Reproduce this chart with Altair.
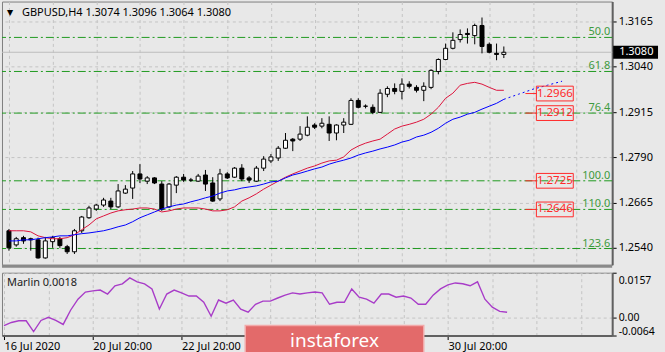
import altair as alt
import pandas as pd

symbol = "GBPUSD,H4"

opens = [1.2587,1.2548,1.2568,1.2565,1.2562,1.2512,1.2557,1.2565,1.2543,1.2529,
         1.2587,1.2623,1.2647,1.2658,1.2669,1.2653,1.2691,1.2705,1.2744,1.2724,
         1.2733,1.2716,1.2653,1.2713,1.2735,1.2727,1.2724,1.2741,1.2719,1.2675,
         1.2744,1.2735,1.2760,1.2733,1.2724,1.2760,1.2780,1.2788,1.2815,1.2840,
         1.2840,1.2851,1.2879,1.2876,1.2881,1.2857,1.2879,1.2881,1.2947,1.2931,
         1.2928,1.2914,1.2964,1.2980,1.2972,1.2992,1.2983,1.2975,1.2983,1.3027,
         1.3060,1.3091,1.3115,1.3132,1.3126,1.3154,1.3102,1.3077,1.3074]
highs = [1.2592,1.2570,1.2573,1.2568,1.2568,1.2570,1.2573,1.2570,1.2548,1.2592,
         1.2628,1.2656,1.2661,1.2678,1.2678,1.2716,1.2713,1.2752,1.2771,1.2738,
         1.2735,1.2724,1.2719,1.2738,1.2744,1.2733,1.2744,1.2755,1.2735,1.2758,
         1.2749,1.2763,1.2771,1.2738,1.2766,1.2793,1.2799,1.2821,1.2857,1.2843,
         1.2876,1.2903,1.2884,1.2898,1.2903,1.2881,1.2898,1.2953,1.2953,1.2936,
         1.2936,1.2978,1.2986,1.2994,1.3008,1.3000,1.2989,1.2997,1.3033,1.3063,
         1.3104,1.3135,1.3143,1.3146,1.3159,1.3176,1.3107,1.3104,1.3096]
lows = [1.2532,1.2543,1.2551,1.2532,1.2510,1.2510,1.2540,1.2540,1.2523,1.2523,
        1.2581,1.2620,1.2642,1.2653,1.2647,1.2650,1.2689,1.2675,1.2719,1.2716,
        1.2716,1.2642,1.2650,1.2691,1.2722,1.2722,1.2722,1.2697,1.2667,1.2669,
        1.2730,1.2733,1.2724,1.2719,1.2722,1.2752,1.2774,1.2780,1.2813,1.2807,
        1.2835,1.2848,1.2868,1.2870,1.2835,1.2837,1.2857,1.2879,1.2925,1.2925,
        1.2909,1.2912,1.2956,1.2964,1.2950,1.2980,1.2969,1.2945,1.2978,1.3019,
        1.3058,1.3088,1.3107,1.3104,1.3102,1.3077,1.3077,1.3058,1.3064]
closes = [1.2540,1.2565,1.2559,1.2562,1.2512,1.2559,1.2568,1.2546,1.2529,1.2587,
          1.2625,1.2650,1.2658,1.2672,1.2653,1.2697,1.2702,1.2744,1.2730,1.2733,
          1.2719,1.2647,1.2716,1.2735,1.2727,1.2727,1.2738,1.2716,1.2669,1.2744,
          1.2733,1.2760,1.2730,1.2727,1.2760,1.2785,1.2791,1.2815,1.2837,1.2835,
          1.2854,1.2873,1.2873,1.2884,1.2857,1.2879,1.2887,1.2947,1.2928,1.2931,
          1.2914,1.2967,1.2980,1.2972,1.2992,1.2986,1.2975,1.2986,1.3030,1.3060,
          1.3091,1.3113,1.3129,1.3129,1.3154,1.3096,1.3080,1.3074,1.3080]

ma_red = [1.2587,1.2587,1.2587,1.2584,1.2573,1.2568,1.2565,1.2565,1.2568,1.2576,
          1.2590,1.2603,1.2620,1.2628,1.2636,1.2642,1.2645,1.2647,1.2650,1.2650,
          1.2647,1.2639,1.2642,1.2647,1.2650,1.2650,1.2650,1.2647,1.2642,1.2642,
          1.2645,1.2653,1.2669,1.2678,1.2689,1.2702,1.2713,1.2724,1.2735,1.2744,
          1.2752,1.2760,1.2766,1.2774,1.2780,1.2782,1.2791,1.2810,1.2821,1.2829,
          1.2835,1.2840,1.2854,1.2868,1.2876,1.2881,1.2887,1.2895,1.2909,1.2928,
          1.2953,1.2967,1.2989,1.2994,1.2997,1.2992,1.2983,1.2975,1.2975]
ma_blue = [1.2559,1.2559,1.2562,1.2562,1.2565,1.2568,1.2570,1.2573,1.2573,1.2576,
           1.2579,1.2581,1.2584,1.2587,1.2592,1.2598,1.2603,1.2612,1.2623,1.2631,
           1.2639,1.2647,1.2653,1.2658,1.2661,1.2667,1.2672,1.2678,1.2683,1.2691,
           1.2697,1.2700,1.2705,1.2708,1.2711,1.2716,1.2722,1.2724,1.2733,1.2741,
           1.2746,1.2752,1.2758,1.2763,1.2771,1.2777,1.2782,1.2788,1.2796,1.2802,
           1.2807,1.2813,1.2818,1.2824,1.2832,1.2837,1.2846,1.2851,1.2859,1.2870,
           1.2884,1.2895,1.2901,1.2909,1.2914,1.2923,1.2931,1.2939,1.2950]
blue_ext_idx = [68, 70, 72, 74, 76]
blue_ext = [1.2950, 1.2964, 1.2978, 1.2989, 1.3000]

marlin = [-0.0029,-0.0018,-0.0012,-0.0012,-0.0050,-0.0011,0.0000,-0.0011,-0.0025,0.0025,
          0.0064,0.0089,0.0093,0.0096,0.0082,0.0111,0.0118,0.0139,0.0125,0.0118,
          0.0100,0.0029,0.0082,0.0096,0.0086,0.0075,0.0075,0.0053,0.0004,0.0061,
          0.0050,0.0061,0.0029,0.0018,0.0046,0.0057,0.0057,0.0068,0.0078,0.0086,
          0.0082,0.0086,0.0089,0.0086,0.0046,0.0053,0.0053,0.0100,0.0071,0.0064,
          0.0050,0.0082,0.0082,0.0071,0.0075,0.0068,0.0046,0.0046,0.0078,0.0100,
          0.0114,0.0121,0.0118,0.0111,0.0125,0.0064,0.0036,0.0021,0.0018]

fibo_prices = [1.3121, 1.3027, 1.2912, 1.2725, 1.2646, 1.2538]
fibo_labels = ["50.0", "61.8", "76.4", "100.0", "110.0", "123.6"]
target_prices = [1.2966, 1.2912, 1.2725, 1.2646]
price_ticks = [1.3165, 1.3040, 1.2915, 1.2790, 1.2665, 1.2540]
bid = 1.3080
marlin_ticks = [0.0157, 0.0, -0.0064]
marlin_tick_labels = ["0.0157", "0.00", "-0.0064"]
time_tick_idx = [0, 12, 24, 60]
time_tick_labels = ["16 Jul 2020", "20 Jul 20:00", "22 Jul 20:00", "30 Jul 20:00"]
grid_idx = list(range(0, 84, 6))

# ---------------- styles ----------------
BG = "#e8e8e8"
GRID = "#c4c4c4"
GREEN = "#1f9a1f"
GREEN_TXT = "#3d9a3d"
RED = "#ff2a2a"
FONT = "Noto Sans"
W = 612
H_MAIN = 264
H_LOW = 63
X_DOMAIN = [-0.27, 82.2]
Y_DOMAIN = [1.24932, 1.32201]
M_DOMAIN = [-0.0064, 0.0157]

n = len(opens)
idx = list(range(n))
candles = pd.DataFrame({"i": idx, "o": opens, "h": highs, "l": lows, "c": closes})
ma = pd.DataFrame({"i": idx, "red": ma_red, "blue": ma_blue})
ext = pd.DataFrame({"i": blue_ext_idx, "v": blue_ext})
fib = pd.DataFrame({"p": fibo_prices, "t": fibo_labels})
tgt = pd.DataFrame({"p": target_prices, "t": [f"{p:.4f}" for p in target_prices]})
bidf = pd.DataFrame({"p": [bid], "t": [f"{bid:.4f}"]})
title_txt = f"{symbol}  " + " ".join(f"{v:.4f}" for v in (opens[-1], highs[-1], lows[-1], closes[-1]))
title_df = pd.DataFrame({"t": [title_txt]})
tri_df = pd.DataFrame({"t": ["\u25bc"]})
mar = pd.DataFrame({"i": idx, "m": marlin})
mar_lbl = pd.DataFrame({"t": [f"Marlin {marlin[-1]:.4f}"]})
wm = pd.DataFrame({"t": ["instaforex"]})

xscale = alt.Scale(domain=X_DOMAIN, nice=False, zero=False)
yscale = alt.Scale(domain=Y_DOMAIN, nice=False, zero=False)
mscale = alt.Scale(domain=M_DOMAIN, nice=False, zero=False)

xaxis_main = alt.Axis(values=grid_idx, grid=True, gridColor=GRID, gridDash=[3, 3],
                      labels=False, ticks=False, domain=False, title=None)
yaxis_main = alt.Axis(orient="right", values=price_ticks, format=".4f", grid=True,
                      gridColor=GRID, gridDash=[3, 3], tickSize=4, tickColor="black",
                      labelPadding=2, labelFont=FONT, labelFontSize=11, labelColor="black",
                      domainColor="#606060", domainWidth=2, title=None,
                      labelOverlap=False, labelFlush=False)

def X(ax=xaxis_main):
    return alt.X("i:Q", scale=xscale, axis=ax)

def Y(field):
    return alt.Y(field, scale=yscale, axis=yaxis_main)

fib_rules = alt.Chart(fib).mark_rule(color=GREEN, strokeDash=[8, 3, 2, 3], strokeWidth=1).encode(y=Y("p:Q"))
fib_text = alt.Chart(fib).mark_text(align="right", baseline="alphabetic", dy=-2, font=FONT,
                                    fontSize=11, color=GREEN_TXT).encode(
    x=alt.value(610), y=Y("p:Q"), text="t:N")
bid_rule = alt.Chart(bidf).mark_rule(color="#bdbdbd", strokeWidth=1).encode(y=Y("p:Q"))

wicks = alt.Chart(candles).mark_rule(color="black", strokeWidth=1).encode(
    x=X(), y=Y("l:Q"), y2="h:Q")
bodies = alt.Chart(candles).mark_bar(size=4, stroke="black", strokeWidth=1).encode(
    x=X(), y=Y("o:Q"), y2="c:Q",
    fill=alt.condition("datum.c >= datum.o", alt.value("white"), alt.value("black")))

red_line = alt.Chart(ma).mark_line(color="#dc143c", strokeWidth=1).encode(x=X(), y=Y("red:Q"))
blue_line = alt.Chart(ma).mark_line(color="#0000ff", strokeWidth=1).encode(x=X(), y=Y("blue:Q"))
blue_dots = alt.Chart(ext).mark_line(color="#0000ff", strokeWidth=1, strokeDash=[2, 3]).encode(
    x=X(), y=Y("v:Q"))

tgt_stub = alt.Chart(tgt).mark_rule(color=RED, strokeWidth=1).encode(
    x=alt.value(525), x2=alt.value(536), y=Y("p:Q"))
tgt_box = alt.Chart(tgt).mark_point(shape="M-1,-0.4H1V0.4H-1Z", size=37 * 37, filled=False,
                                    color=RED, strokeWidth=1, opacity=1).encode(
    x=alt.value(554.5), y=Y("p:Q"))
tgt_text = alt.Chart(tgt).mark_text(align="center", baseline="middle", font=FONT,
                                    fontSize=11.5, color=RED).encode(
    x=alt.value(554.5), y=Y("p:Q"), text="t:N")

bid_box = alt.Chart(bidf).mark_rule(color="black", strokeWidth=13, strokeCap="butt").encode(
    x=alt.value(613), x2=alt.value(658), y=Y("p:Q"))
bid_text = alt.Chart(bidf).mark_text(align="left", baseline="middle", font=FONT, fontSize=11,
                                     color="white").encode(
    x=alt.value(619), y=Y("p:Q"), text="t:N")

tri = alt.Chart(tri_df).mark_text(align="left", baseline="middle", fontSize=8, color="black",
                                  font="DejaVu Sans").encode(
    x=alt.value(5), y=alt.value(12), text="t:N")
title = alt.Chart(title_df).mark_text(align="left", baseline="middle", font=FONT, fontSize=11,
                                      color="black").encode(
    x=alt.value(20), y=alt.value(12), text="t:N")
splitter = alt.Chart(title_df).mark_rule(color="#8a8a8a", strokeWidth=3).encode(
    x=alt.value(0), x2=alt.value(W), y=alt.value(H_MAIN + 1.5))

main = alt.layer(fib_rules, bid_rule, wicks, bodies, red_line, blue_line, blue_dots,
                 fib_text, tgt_stub, tgt_box, tgt_text, bid_box, bid_text, tri, title,
                 splitter).properties(width=W, height=H_MAIN)

# ---------------- lower panel ----------------
lab_expr = ""
for v, t in zip(time_tick_idx, time_tick_labels):
    lab_expr += f"datum.value == {v} ? '{t}' : "
lab_expr += "''"
tick_test = " || ".join(f"datum.value == {v}" for v in time_tick_idx)

xaxis_low = alt.Axis(values=grid_idx, grid=True, gridColor=GRID, gridDash=[3, 3],
                     labelExpr=lab_expr, labelAlign="left", labelFlush=False,
                     labelOverlap=False, labelPadding=1, tickSize=4, tickColor="black",
                     tickOpacity={"condition": {"test": tick_test, "value": 1}, "value": 0},
                     domainColor="#606060", domainWidth=2, title=None,
                     labelFont=FONT, labelFontSize=11, labelColor="black")

m_expr = ""
for v, t in zip(marlin_ticks, marlin_tick_labels):
    m_expr += f"abs(datum.value - ({v})) < 0.00001 ? '{t}' : "
m_expr += "''"
yaxis_low = alt.Axis(orient="right", values=marlin_ticks, labelExpr=m_expr, grid=True,
                     gridColor=GRID, gridDash=[3, 3], tickSize=4, tickColor="black",
                     labelPadding=2, labelFlush=True, labelFlushOffset=1,
                     labelOffset={"condition": {"test": "datum.value > 0.01", "value": 4}, "value": 0},
                     labelFont=FONT, labelFontSize=10.5, labelColor="black",
                     domainColor="#606060", domainWidth=2, title=None, labelOverlap=False)

mline = alt.Chart(mar).mark_line(color="#a83cc8", strokeWidth=1.4).encode(
    x=X(xaxis_low), y=alt.Y("m:Q", scale=mscale, axis=yaxis_low))
mtext = alt.Chart(mar_lbl).mark_text(align="left", baseline="middle", font=FONT, fontSize=11,
                                     color="#222222").encode(
    x=alt.value(5), y=alt.value(10), text="t:N")
wm_rect = alt.Chart(wm).mark_rect(color="#e36a6a", stroke="#f2a9a9", strokeWidth=1.5).encode(
    x=alt.value(244), x2=alt.value(423), y=alt.value(53), y2=alt.value(84))
wm_text = alt.Chart(wm).mark_text(align="center", baseline="middle", font=FONT, fontSize=19,
                                  color="white").encode(
    x=alt.value(333.5), y=alt.value(69), text="t:N")

lower = alt.layer(mline, mtext, wm_rect, wm_text).properties(width=W, height=H_LOW)

chart = alt.vconcat(main, lower, spacing=3).properties(
    padding={"left": 0, "top": 0, "right": 0, "bottom": 0}
).configure(background=BG).configure_view(stroke="#7f7f7f", strokeWidth=1)

chart.save("out.html", embed_options={"renderer": "svg", "actions": False})
